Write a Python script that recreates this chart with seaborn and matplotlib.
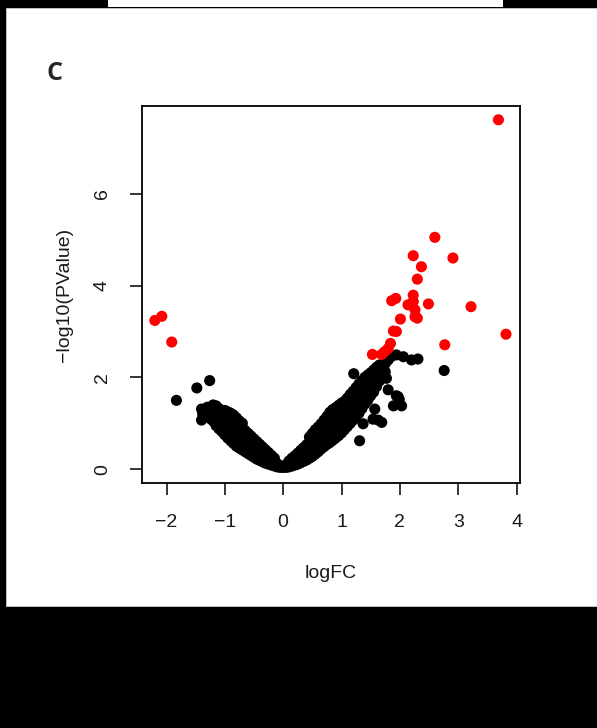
import matplotlib
matplotlib.use("Agg")
import matplotlib.pyplot as plt
from matplotlib.patches import Rectangle
import seaborn as sns
import pandas as pd

# non-significant genes (black)
ns_logfc = [
    0.00,
    0.05, 0.05,
    0.10, 0.10, 0.10,
    0.15, 0.15, 0.15,
    0.20, 0.20, 0.20,
    0.25, 0.25, 0.25,
    0.30, 0.30, 0.30,
    0.35, 0.35, 0.35,
    0.40, 0.40, 0.40,
    0.45, 0.45, 0.45, 0.45,
    0.50, 0.50, 0.50, 0.50,
    0.55, 0.55, 0.55, 0.55,
    0.60, 0.60, 0.60, 0.60,
    0.65, 0.65, 0.65, 0.65,
    0.70, 0.70, 0.70, 0.70,
    0.75, 0.75, 0.75, 0.75,
    0.80, 0.80, 0.80, 0.80,
    0.85, 0.85, 0.85, 0.85,
    0.90, 0.90, 0.90, 0.90,
    0.95, 0.95, 0.95, 0.95,
    1.00, 1.00, 1.00, 1.00,
    1.05, 1.05, 1.05, 1.05,
    1.10, 1.10, 1.10, 1.10,
    1.15, 1.15, 1.15, 1.15,
    1.20, 1.20, 1.20, 1.20,
    1.25, 1.25, 1.25, 1.25,
    1.30, 1.30, 1.30, 1.30,
    1.35, 1.35, 1.35, 1.35,
    1.40, 1.40, 1.40,
    1.45, 1.45, 1.45,
    1.50, 1.50, 1.50,
    1.55, 1.55, 1.55,
    1.60, 1.60, 1.60,
    1.65, 1.65, 1.65,
    1.70, 1.70,
    1.75,
    -0.05,
    -0.10, -0.10,
    -0.15, -0.15, -0.15,
    -0.20, -0.20, -0.20,
    -0.25, -0.25, -0.25,
    -0.30, -0.30, -0.30,
    -0.35, -0.35, -0.35,
    -0.40, -0.40, -0.40,
    -0.45, -0.45, -0.45,
    -0.50, -0.50, -0.50,
    -0.55, -0.55, -0.55,
    -0.60, -0.60, -0.60,
    -0.65, -0.65, -0.65,
    -0.70, -0.70, -0.70, -0.70,
    -0.75, -0.75, -0.75, -0.75,
    -0.80, -0.80, -0.80, -0.80,
    -0.85, -0.85, -0.85, -0.85,
    -0.90, -0.90, -0.90, -0.90,
    -0.95, -0.95, -0.95, -0.95,
    -1.00, -1.00, -1.00, -1.00,
    -1.05, -1.05, -1.05,
    -1.10, -1.10, -1.10,
    -1.15, -1.15, -1.15,
    -1.20, -1.20, -1.20,
    -1.25, -1.25,
    -1.30, -1.30,
    -1.38, -1.40, -1.40,
    -1.83, -1.48, -1.26,
    1.21, 1.31, 1.37, 1.57, 1.69, 1.54, 1.63, 1.89, 2.03, 1.94, 1.99,
    1.80, 1.97, 1.77, 1.69, 1.75, 1.80, 1.85,
    1.94, 2.06, 2.20, 2.31, 2.76,
]
ns_logp = [
    0.04,
    0.04, 0.10,
    0.05, 0.12, 0.18,
    0.07, 0.15, 0.24,
    0.09, 0.18, 0.29,
    0.11, 0.22, 0.35,
    0.14, 0.27, 0.41,
    0.17, 0.31, 0.47,
    0.20, 0.35, 0.53,
    0.24, 0.40, 0.59, 0.70,
    0.28, 0.44, 0.62, 0.78,
    0.33, 0.49, 0.67, 0.86,
    0.38, 0.55, 0.73, 0.92,
    0.44, 0.61, 0.80, 0.99,
    0.49, 0.67, 0.87, 1.07,
    0.54, 0.73, 0.94, 1.15,
    0.58, 0.79, 1.02, 1.24,
    0.63, 0.85, 1.08, 1.30,
    0.68, 0.90, 1.13, 1.34,
    0.73, 0.96, 1.18, 1.39,
    0.79, 1.02, 1.24, 1.44,
    0.86, 1.08, 1.30, 1.48,
    0.93, 1.15, 1.37, 1.55,
    1.00, 1.22, 1.45, 1.63,
    1.07, 1.30, 1.52, 1.70,
    1.14, 1.38, 1.60, 1.78,
    1.22, 1.47, 1.70, 1.86,
    1.32, 1.56, 1.78, 1.93,
    1.42, 1.84, 2.00,
    1.50, 1.72, 2.05,
    1.60, 1.85, 2.10,
    1.68, 1.95, 2.16,
    1.80, 2.05, 2.22,
    1.92, 2.15, 2.27,
    2.02, 2.20,
    2.12,
    0.04,
    0.05, 0.12,
    0.07, 0.16, 0.24,
    0.09, 0.20, 0.30,
    0.11, 0.24, 0.36,
    0.13, 0.28, 0.42,
    0.16, 0.32, 0.48,
    0.19, 0.36, 0.54,
    0.22, 0.40, 0.60,
    0.26, 0.45, 0.66,
    0.30, 0.50, 0.72,
    0.34, 0.55, 0.78,
    0.38, 0.60, 0.84,
    0.42, 0.65, 0.90, 1.00,
    0.46, 0.70, 0.95, 1.05,
    0.50, 0.75, 1.00, 1.12,
    0.56, 0.80, 1.05, 1.18,
    0.62, 0.86, 1.10, 1.22,
    0.68, 0.92, 1.15, 1.25,
    0.75, 0.98, 1.20, 1.28,
    0.82, 1.05, 1.25,
    0.88, 1.12, 1.32,
    0.95, 1.18, 1.38,
    1.05, 1.25, 1.40,
    1.10, 1.32,
    1.15, 1.35,
    1.20, 1.07, 1.31,
    1.50, 1.77, 1.93,
    2.08, 0.62, 0.99, 1.31, 1.02, 1.09, 1.07, 1.38, 1.38, 1.60, 1.52,
    1.73, 1.58, 1.98, 2.24, 2.30, 2.38, 2.45,
    2.49, 2.45, 2.38, 2.40, 2.15,
]

# significant genes (red)
sig_logfc = [3.69, -2.20, -2.08, -1.91, 2.60, 2.91, 2.23, 2.37, 2.30, 1.86,
             1.93, 2.23, 2.23, 2.14, 2.49, 2.26, 2.26, 2.30, 3.22, 2.01,
             1.89, 1.94, 3.82, 2.77, 1.84, 1.80, 1.53, 1.69, 1.74]
sig_logp = [7.61, 3.24, 3.33, 2.77, 5.05, 4.60, 4.65, 4.41, 4.14, 3.67,
            3.72, 3.79, 3.65, 3.58, 3.60, 3.47, 3.32, 3.29, 3.54, 3.27,
            3.01, 3.00, 2.94, 2.71, 2.74, 2.63, 2.50, 2.50, 2.56]

x_ticks = [-2, -1, 0, 1, 2, 3, 4]
y_ticks = [0, 2, 4, 6]

df = pd.DataFrame({
    "logFC": ns_logfc + sig_logfc,
    "logP": ns_logp + sig_logp,
    "group": ["ns"] * len(ns_logfc) + ["sig"] * len(sig_logfc),
})

sns.set_theme(style="ticks")
plt.rcParams["font.family"] = ["Liberation Sans", "DejaVu Sans"]

W, H = 597, 728
fig = plt.figure(figsize=(W / 100, H / 100), dpi=100, facecolor="black")

# white panel on black background, plus the strip at the very top
fig.patches.append(Rectangle((6 / W, (H - 606) / H), (W - 6) / W, (606 - 8) / H,
                             transform=fig.transFigure, facecolor="white",
                             edgecolor="#cccccc", linewidth=0.6, zorder=-10))
fig.patches.append(Rectangle((108 / W, (H - 7) / H), (503 - 108) / W, 7 / H,
                             transform=fig.transFigure, facecolor="white",
                             edgecolor="none", zorder=-10))

ax = fig.add_axes([142 / W, (H - 483) / H, (520 - 142) / W, (483 - 106) / H])
ax.set_facecolor("white")

sns.scatterplot(data=df, x="logFC", y="logP", hue="group",
                palette={"ns": "black", "sig": "#ff0000"},
                s=64, linewidth=0, alpha=1, legend=False, ax=ax)

ax.set_xlim(-2.42, 4.06)
ax.set_ylim(-0.30, 7.91)
ax.set_xticks(x_ticks)
ax.set_yticks(y_ticks)
ax.set_xticklabels(["\u22122", "\u22121", "0", "1", "2", "3", "4"])
ax.tick_params(axis="both", direction="out", length=8.5, width=1.1,
               color="black", labelsize=14, labelcolor="#1a1a1a", pad=14)
for lab in ax.get_yticklabels():
    lab.set_rotation(90)
    lab.set_va("center")

for sp in ax.spines.values():
    sp.set_visible(True)
    sp.set_color("black")
    sp.set_linewidth(1.3)

ax.set_xlabel("logFC", fontsize=14, color="#1a1a1a", labelpad=24)
ax.set_ylabel("\u2212log10(PValue)", fontsize=14, color="#1a1a1a", labelpad=15)

fig.text(55 / W, (H - 73) / H, "C", fontsize=18, fontweight="bold",
         family=["Open Sans", "DejaVu Sans"], ha="center", va="center")

fig.savefig("out.png", dpi=100, facecolor="black")
plt.close(fig)
